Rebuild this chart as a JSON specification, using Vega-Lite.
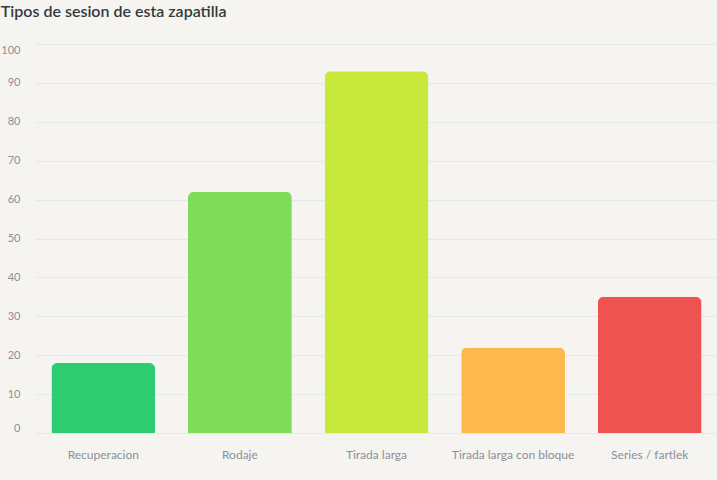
{
  "$schema": "https://vega.github.io/schema/vega-lite/v6.json",
  "width": 683,
  "height": 389,
  "padding": {"top": 4, "right": 0, "bottom": 20, "left": 0},
  "background": "#f5f4f0",
  "title": {
    "text": "Tipos de sesion de esta zapatilla",
    "anchor": "start",
    "frame": "bounds",
    "font": "Lato",
    "fontSize": 16,
    "fontWeight": 600,
    "color": "#333a3f",
    "offset": 24
  },
  "config": {
    "font": "Lato",
    "view": {"stroke": "transparent"},
    "axis": {
      "ticks": false,
      "domain": false,
      "labelColor": "#8b9099",
      "gridColor": "#e6e7ef",
      "gridWidth": 1
    }
  },
  "data": {
    "values": [
      {"tipo": "Recuperacion", "sesiones": 18},
      {"tipo": "Rodaje", "sesiones": 62},
      {"tipo": "Tirada larga", "sesiones": 93},
      {"tipo": "Tirada larga con bloque", "sesiones": 22},
      {"tipo": "Series / fartlek", "sesiones": 35}
    ]
  },
  "mark": {
    "type": "bar",
    "cornerRadiusTopLeft": 6,
    "cornerRadiusTopRight": 6
  },
  "encoding": {
    "x": {
      "field": "tipo",
      "type": "nominal",
      "sort": null,
      "title": null,
      "scale": {"paddingInner": 0.24, "paddingOuter": 0.12},
      "axis": {"labelAngle": 0, "labelFontSize": 12, "labelPadding": 16, "grid": false}
    },
    "y": {
      "field": "sesiones",
      "type": "quantitative",
      "title": null,
      "scale": {"domain": [0, 100]},
      "axis": {
        "values": [0, 10, 20, 30, 40, 50, 60, 70, 80, 90, 100],
        "labelFontSize": 11,
        "labelFlush": 6,
        "labelPadding": 15,
        "minExtent": 32,
        "maxExtent": 32,
        "labelAlign": "right"
      }
    },
    "color": {
      "field": "tipo",
      "type": "nominal",
      "sort": null,
      "legend": null,
      "scale": {
        "domain": ["Recuperacion", "Rodaje", "Tirada larga", "Tirada larga con bloque", "Series / fartlek"],
        "range": ["#2ecc71", "#7fdb5a", "#c8e83c", "#ffb84d", "#ef5350"]
      }
    }
  }
}
